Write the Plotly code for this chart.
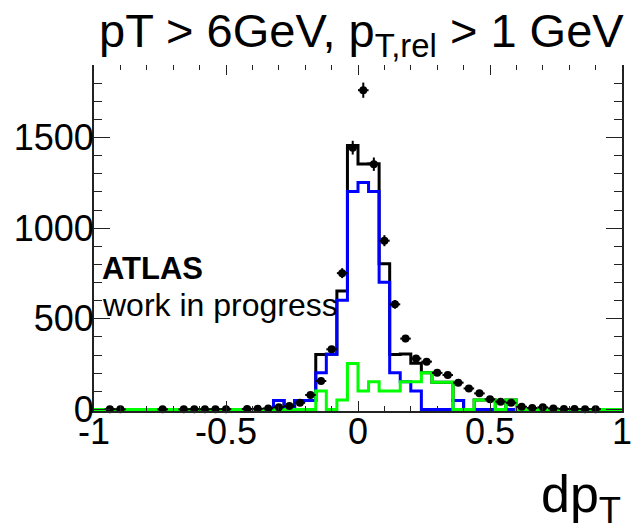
import numpy as np
import plotly.graph_objects as go

# ---------------- data ----------------
# histogram binning: 50 bins of width 0.04 between -1 and 1
bin_edges = np.round(np.linspace(-1.0, 1.0, 51), 2)

# total MC (black outline), per bin
mc_total = [0, 0, 0, 0, 0, 0, 0, 0, 0, 0,
            0, 0, 0, 0, 0, 0, 0, 50, 0, 50,
            50, 304, 305, 654, 1456, 1354, 1355, 804, 304, 306,
            255, 202, 150, 150, 50, 0, 52, 52, 0, 52,
            0, 0, 0, 0, 0, 0, 0, 0, 0, 0]

# component 1 (blue)
mc_blue = [0, 0, 0, 0, 0, 0, 0, 0, 0, 0,
           0, 0, 0, 0, 0, 0, 0, 50, 0, 50,
           50, 202, 305, 602, 1202, 1252, 1202, 702, 202, 153,
           102, 0, 0, 0, 50, 0, 0, 0, 0, 0,
           0, 0, 0, 0, 0, 0, 0, 0, 0, 0]

# component 2 (green)
mc_green = [0, 0, 0, 0, 0, 0, 0, 0, 0, 0,
            0, 0, 0, 0, 0, 0, 0, 0, 0, 0,
            0, 102, 0, 52, 254, 102, 153, 102, 102, 153,
            153, 202, 150, 150, 0, 0, 52, 52, 0, 52,
            0, 0, 0, 0, 0, 0, 0, 0, 0, 0]

# data points (bin centres, counts) - only non-empty bins
data_x = [-0.94, -0.90, -0.74, -0.66, -0.62, -0.58, -0.54, -0.50, -0.42, -0.38,
          -0.34, -0.30, -0.26, -0.22, -0.18, -0.14, -0.10, -0.06, -0.02, 0.02,
          0.06, 0.10, 0.14, 0.18, 0.22, 0.26, 0.30, 0.34, 0.38, 0.42,
          0.46, 0.50, 0.54, 0.58, 0.62, 0.66, 0.70, 0.74, 0.78, 0.82,
          0.86, 0.90]
data_y = [2, 1, 1, 1, 2, 1, 2, 2, 3, 4,
          6, 12, 19, 37, 80, 157, 332, 752, 1444, 1761,
          1353, 931, 580, 391, 281, 264, 202, 190, 148, 116,
          89, 56, 43, 37, 15, 8, 12, 6, 3, 3,
          2, 2]

x_tick_vals = [-1, -0.5, 0, 0.5, 1]
x_tick_text = ["-1", "-0.5", "0", "0.5", "1"]
y_tick_vals = [0, 500, 1000, 1500]
y_tick_text = ["0", "500", "1000", "1500"]

FONT = "Liberation Sans, Arial, Helvetica, sans-serif"
AX = "#222222"

def step_y(vals):
    return list(vals) + [vals[-1]]

fig = go.Figure()

for vals, col in [(mc_total, "#000000"), (mc_blue, "#0000ff"), (mc_green, "#00ff00")]:
    fig.add_trace(go.Scatter(
        x=bin_edges, y=step_y(vals), mode="lines",
        line=dict(color=col, width=3, shape="hv"),
        showlegend=False, hoverinfo="skip"))

fig.add_trace(go.Scatter(
    x=data_x, y=data_y, mode="markers",
    marker=dict(color="black", size=8, symbol="circle"),
    error_y=dict(type="data", array=list(np.sqrt(np.array(data_y, dtype=float))),
                 color="black", thickness=2, width=0),
    error_x=dict(type="constant", value=0.02, color="black", thickness=2, width=0),
    cliponaxis=False, showlegend=False))

# invisible trace to anchor the top axis
fig.add_trace(go.Scatter(x=[-1, 1], y=[0, 0], xaxis="x2", mode="lines",
                         line=dict(width=0), showlegend=False, hoverinfo="skip"))

W, H = 635, 524
L, R, T, B = 94, 3, 65, 113

fig.update_layout(
    width=W, height=H,
    margin=dict(l=L, r=R, t=T, b=B, pad=0),
    paper_bgcolor="white", plot_bgcolor="white",
    font=dict(family=FONT, size=36, color="black"),
    xaxis=dict(range=[-1, 1], tickvals=x_tick_vals, ticktext=x_tick_text,
               showgrid=False, zeroline=False,
               showline=True, linecolor=AX, linewidth=2,
               ticks="inside", ticklen=10, tickwidth=1, tickcolor=AX,
               minor=dict(dtick=0.1, ticks="inside", ticklen=5, tickcolor=AX, tickwidth=1),
               tickfont=dict(size=36, family=FONT), ticklabelstandoff=-12,
               ticklabeloverflow="allow"),
    xaxis2=dict(range=[-1, 1], overlaying="x", side="top", anchor="y",
                tickvals=x_tick_vals, showticklabels=False,
                showgrid=False, zeroline=False, showline=False,
                ticks="inside", ticklen=10, tickwidth=1, tickcolor=AX,
                minor=dict(dtick=0.1, ticks="inside", ticklen=5, tickcolor=AX, tickwidth=1)),
    yaxis=dict(range=[-8.3, 1900], tickvals=y_tick_vals, ticktext=y_tick_text,
               showgrid=False, zeroline=False,
               showline=True, linecolor=AX, linewidth=2, mirror="ticks",
               ticks="inside", ticklen=16, tickwidth=1, tickcolor=AX,
               minor=dict(dtick=100, ticks="inside", ticklen=8, tickcolor=AX, tickwidth=1),
               tickfont=dict(size=36, family=FONT), ticklabelstandoff=-9,
               ticklabeloverflow="allow"),
)

def px_x(p):
    return (p - L) / (W - L - R)

def px_y(p):
    return (H - B - p) / (H - T - B)

fig.add_annotation(text="pT > 6GeV, p<sub>T,rel</sub> > 1 GeV",
                   xref="paper", yref="paper", x=px_x(636), y=px_y(34),
                   xanchor="right", yanchor="middle", showarrow=False,
                   font=dict(size=47, family=FONT, color="black"))
fig.add_annotation(text="dp<sub>T</sub>",
                   xref="paper", yref="paper", x=px_x(633), y=px_y(498),
                   xanchor="right", yanchor="middle", showarrow=False,
                   font=dict(size=52, family=FONT, color="black"))
fig.add_annotation(text="<b>ATLAS</b>",
                   xref="paper", yref="paper", x=px_x(100), y=px_y(268),
                   xanchor="left", yanchor="middle", showarrow=False,
                   font=dict(size=31, family=FONT, color="black"))
fig.add_annotation(text="work in progress",
                   xref="paper", yref="paper", x=px_x(100), y=px_y(305),
                   xanchor="left", yanchor="middle", showarrow=False,
                   font=dict(size=32, family=FONT, color="black"))

fig.write_html("out.html")
